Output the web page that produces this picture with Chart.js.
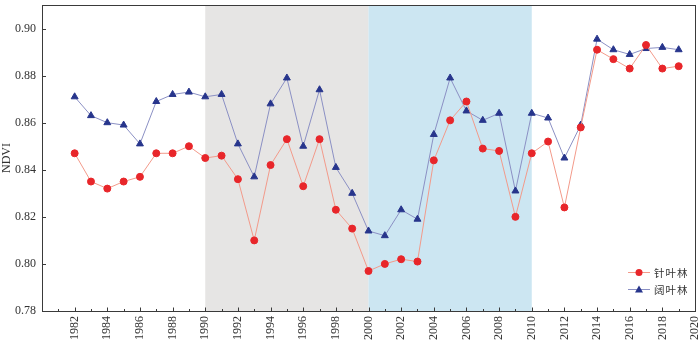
<!DOCTYPE html>
<html>
<head>
<meta charset="utf-8">
<script src="https://cdn.jsdelivr.net/npm/chart.js@4"></script>
<style>
  html, body { margin: 0; padding: 0; background: #fff; }
</style>
</head>
<body>
<canvas id="myChart" width="700" height="340"></canvas>
<script>
const years = [1982, 1983, 1984, 1985, 1986, 1987, 1988, 1989, 1990, 1991,
  1992, 1993, 1994, 1995, 1996, 1997, 1998, 1999, 2000, 2001,
  2002, 2003, 2004, 2005, 2006, 2007, 2008, 2009, 2010, 2011,
  2012, 2013, 2014, 2015, 2016, 2017, 2018, 2019];
// 针叶林
const conifer = [0.847, 0.835, 0.832, 0.835, 0.837, 0.847, 0.847, 0.850, 0.845, 0.846,
  0.836, 0.810, 0.842, 0.853, 0.833, 0.853, 0.823, 0.815, 0.797, 0.800,
  0.802, 0.801, 0.844, 0.861, 0.869, 0.849, 0.848, 0.820, 0.847, 0.852,
  0.824, 0.858, 0.891, 0.887, 0.883, 0.893, 0.883, 0.884];
// 阔叶林
const broadleaf = [0.871, 0.863, 0.860, 0.859, 0.851, 0.869, 0.872, 0.873, 0.871, 0.872,
  0.851, 0.837, 0.868, 0.879, 0.850, 0.874, 0.841, 0.830, 0.814, 0.812,
  0.823, 0.819, 0.855, 0.879, 0.865, 0.861, 0.864, 0.831, 0.864, 0.862,
  0.845, 0.859, 0.8955, 0.891, 0.889, 0.8915, 0.892, 0.891];
const seriesNames = ['针叶林', '阔叶林'];
const xTicks = [1982, 1984, 1986, 1988, 1990, 1992, 1994, 1996, 1998, 2000,
  2002, 2004, 2006, 2008, 2010, 2012, 2014, 2016, 2018, 2020];
const xMinor = [1981, 1983, 1985, 1987, 1989, 1991, 1993, 1995, 1997, 1999,
  2001, 2003, 2005, 2007, 2009, 2011, 2013, 2015, 2017, 2019];
const yTicks = [0.78, 0.80, 0.82, 0.84, 0.86, 0.88, 0.90];
const periodStarts = [1990, 2000];
const periodEnds = [2000, 2010];

const serif = '"Liberation Serif", "Times New Roman", serif';
const RED = '#e8262a', RED_LINE = '#f39a8a';
const BLUE = '#27358c', BLUE_LINE = '#8b90c4';
const AXIS = '#3a3a3a';
const shadeColors = ['#e6e5e4', '#cce6f2'];

const backdrop = {
  id: 'backdrop',
  beforeDatasetsDraw(chart) {
    const { ctx, chartArea: a, scales: { x } } = chart;
    ctx.save();
    periodStarts.forEach((s, i) => {
      const x0 = x.getPixelForValue(s), x1 = x.getPixelForValue(periodEnds[i]);
      ctx.fillStyle = shadeColors[i];
      ctx.fillRect(x0, a.top, x1 - x0, a.bottom - a.top);
    });
    ctx.restore();
  },
  afterDraw(chart) {
    const { ctx, chartArea: a, scales: { x, y } } = chart;
    ctx.save();
    // frame
    ctx.strokeStyle = AXIS;
    ctx.lineWidth = 1;
    ctx.strokeRect(Math.round(a.left) + 0.5, Math.round(a.top) + 0.5,
      Math.round(a.right - a.left), Math.round(a.bottom - a.top));
    // inward ticks
    const bottom = Math.round(a.bottom) + 0.5, left = Math.round(a.left) + 0.5;
    ctx.beginPath();
    xTicks.forEach(v => {
      const px = Math.round(x.getPixelForValue(v)) + 0.5;
      ctx.moveTo(px, bottom);
      ctx.lineTo(px, bottom - 4);
    });
    xMinor.forEach(v => {
      const px = Math.round(x.getPixelForValue(v)) + 0.5;
      ctx.moveTo(px, bottom);
      ctx.lineTo(px, bottom - 2.5);
    });
    yTicks.forEach(v => {
      const py = Math.round(y.getPixelForValue(v)) + 0.5;
      ctx.moveTo(left, py);
      ctx.lineTo(left + 3.5, py);
    });
    ctx.stroke();
    // legend
    const lx = 628, ly = [272, 289];
    const cols = [[RED, RED_LINE], [BLUE, BLUE_LINE]];
    ctx.font = '10.5px "Noto Sans CJK SC", sans-serif';
    ctx.textBaseline = 'middle';
    seriesNames.forEach((name, i) => {
      ctx.strokeStyle = cols[i][1];
      ctx.lineWidth = 1;
      ctx.beginPath();
      ctx.moveTo(lx, ly[i] + 0.5);
      ctx.lineTo(lx + 22, ly[i] + 0.5);
      ctx.stroke();
      ctx.fillStyle = cols[i][0];
      ctx.beginPath();
      if (i === 0) {
        ctx.arc(lx + 11, ly[i] + 0.5, 3.5, 0, Math.PI * 2);
      } else {
        ctx.moveTo(lx + 11, ly[i] - 3.5);
        ctx.lineTo(lx + 15, ly[i] + 3.5);
        ctx.lineTo(lx + 7, ly[i] + 3.5);
        ctx.closePath();
      }
      ctx.fill();
      ctx.fillStyle = '#333';
      [...name].forEach((ch, k) => ctx.fillText(ch, lx + 26 + k * 11.5, ly[i] + 1));
    });
    ctx.restore();
  }
};

new Chart(document.getElementById('myChart'), {
  type: 'line',
  data: {
    datasets: [
      {
        label: seriesNames[0],
        data: years.map((y, i) => ({ x: y, y: conifer[i] })),
        borderColor: RED_LINE,
        backgroundColor: RED,
        pointBackgroundColor: RED,
        pointBorderColor: RED,
        pointStyle: 'circle',
        pointRadius: 3.5,
        borderWidth: 1,
        tension: 0
      },
      {
        label: seriesNames[1],
        data: years.map((y, i) => ({ x: y, y: broadleaf[i] })),
        borderColor: BLUE_LINE,
        backgroundColor: BLUE,
        pointBackgroundColor: BLUE,
        pointBorderColor: BLUE,
        pointStyle: 'triangle',
        pointRadius: 4,
        borderWidth: 1,
        tension: 0
      }
    ]
  },
  options: {
    responsive: false,
    animation: false,
    layout: { padding: { top: 1, right: 5, left: 0, bottom: 0 } },
    plugins: { legend: { display: false }, tooltip: { enabled: false } },
    scales: {
      x: {
        type: 'linear',
        min: 1980,
        max: 2020,
        afterBuildTicks: s => { s.ticks = xTicks.map(v => ({ value: v })); },
        afterFit: s => { s.height = 29; s.paddingLeft = 0; s.paddingRight = 0; },
        grid: { drawOnChartArea: false, drawTicks: false },
        border: { color: AXIS },
        ticks: {
          autoSkip: false,
          minRotation: 90,
          maxRotation: 90,
          padding: 5,
          color: '#333',
          font: { family: serif, size: 12 },
          callback: v => String(v)
        }
      },
      y: {
        min: 0.78,
        max: 0.91,
        afterBuildTicks: s => { s.ticks = yTicks.map(v => ({ value: v })); },
        afterFit: s => { s.width = 42; s.paddingTop = 0; s.paddingBottom = 0; },
        grid: { drawOnChartArea: false, drawTicks: false },
        border: { color: AXIS },
        title: { display: true, text: 'NDVI', color: '#333', font: { family: serif, size: 12 }, padding: 0 },
        ticks: {
          padding: 6,
          color: '#333',
          font: { family: serif, size: 12 },
          callback: v => v.toFixed(2)
        }
      }
    }
  },
  plugins: [backdrop]
});
</script>
</body>
</html>
